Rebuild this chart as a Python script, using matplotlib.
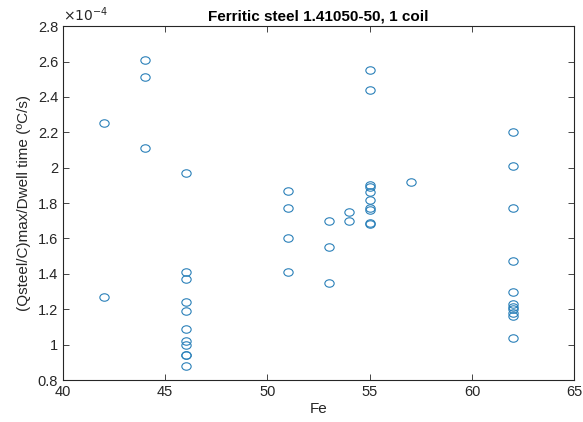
import matplotlib
matplotlib.use("Agg")
import matplotlib.pyplot as plt
from matplotlib.ticker import FuncFormatter, MultipleLocator
from matplotlib.path import Path
from matplotlib.transforms import Affine2D

plt.rcParams['font.family'] = ['Liberation Sans', 'DejaVu Sans']

# Data (y values in units of 1e-4 degC/s)
fe = ([42] * 2 + [44] * 3 + [46] * 11 + [51] * 4 + [53] * 3 + [54] * 2
      + [55] * 10 + [57] * 1 + [62] * 11)
q = [2.25, 1.27,
     2.61, 2.51, 2.11,
     1.97, 1.41, 1.37, 1.24, 1.19, 1.09, 1.02, 1.00, 0.94, 0.94, 0.88,
     1.87, 1.77, 1.60, 1.41,
     1.70, 1.55, 1.35,
     1.75, 1.70,
     2.55, 2.44, 1.90, 1.89, 1.86, 1.82, 1.77, 1.76, 1.69, 1.68,
     1.92,
     2.20, 2.01, 1.77, 1.47, 1.30, 1.23, 1.21, 1.20, 1.18, 1.16, 1.04]

title = "Ferritic steel 1.41050-50, 1 coil"
xlabel = "Fe"
ylabel = "(Qsteel/C)max/Dwell time (ºC/s)"

# slightly flattened circle marker (as in the reference image)
ellipse = Affine2D().scale(1.0, 0.8).transform_path(Path.unit_circle())

fig = plt.figure(figsize=(5.83, 4.22), dpi=100)
ax = fig.add_axes([0.108, 0.0995, 0.877, 0.8385])

ax.plot(fe, q, linestyle='none', marker=ellipse, markersize=6.7,
        markerfacecolor='none', markeredgecolor='#2a80b9', markeredgewidth=0.8)

ax.set_xlim(40, 65)
ax.set_ylim(0.8, 2.8)
ax.xaxis.set_major_locator(MultipleLocator(5))
ax.yaxis.set_major_locator(MultipleLocator(0.2))
ax.yaxis.set_major_formatter(FuncFormatter(lambda v, p: f"{v:g}"))

axc = '#262626'
for s in ax.spines.values():
    s.set_color(axc)
    s.set_linewidth(0.8)
ax.tick_params(direction='in', top=True, right=True, length=4, width=0.6,
               colors=axc, labelsize=10.5, labelcolor='#262626')

ax.set_title(title, fontsize=11, fontweight='bold', pad=4, color='black')
ax.set_xlabel(xlabel, fontsize=11, color='#262626', labelpad=2)
ax.set_ylabel(ylabel, fontsize=11, color='#262626', labelpad=5)

ax.text(0.0, 1.005, r"$\times10^{-4}$", transform=ax.transAxes,
        fontsize=10, color='#262626', ha='left', va='bottom')

fig.savefig("out.png", dpi=100, facecolor='white')
